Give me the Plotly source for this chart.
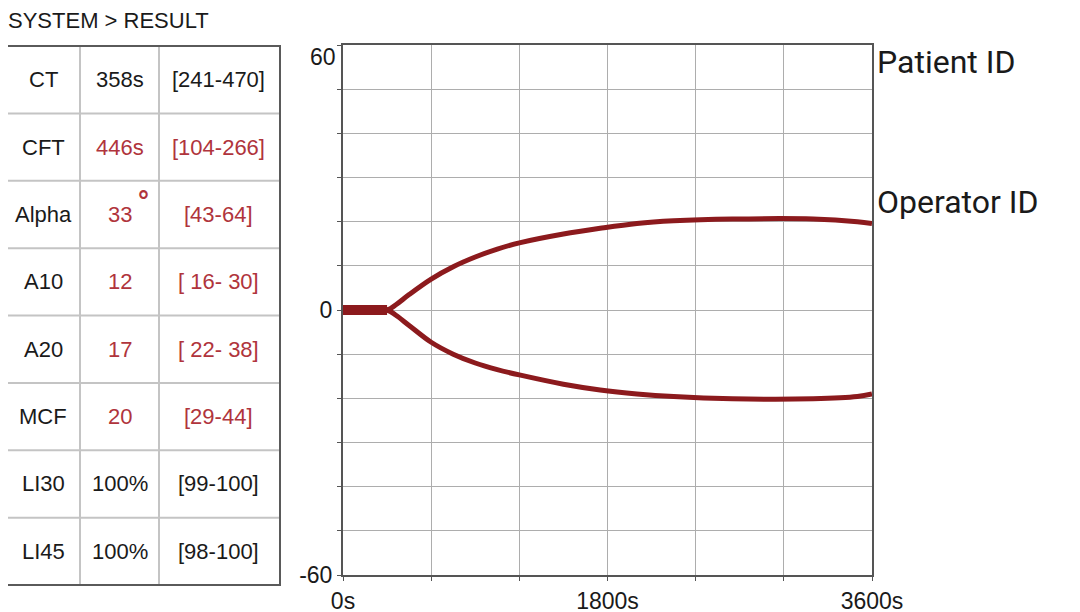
import plotly.graph_objects as go

W, H = 1080, 612
OFF = 8  # page body margin

# ---- data ----
time_s = [0, 300, 360, 450, 600, 750, 900, 1050, 1200, 1500, 1750, 2000, 2250, 2650, 3200, 3500, 3600]
upper = [0, 0, 1.2, 3.5, 7.0, 9.8, 12.0, 13.8, 15.2, 17.2, 18.5, 19.6, 20.2, 20.6, 20.6, 20.0, 19.6]
lower = [0, 0, -1.2, -3.5, -7.3, -10.0, -12.0, -13.5, -14.7, -16.8, -18.1, -19.0, -19.6, -20.1, -20.1, -19.6, -19.0]
flat_t = [0, 300]
flat_v = [0, 0]

params = ["CT", "CFT", "Alpha", "A10", "A20", "MCF", "LI30", "LI45"]
values = ["358s", "446s", "33", "12", "17", "20", "100%", "100%"]
ranges = ["[241-470]", "[104-266]", "[43-64]", "[ 16- 30]", "[ 22- 38]", "[29-44]", "[99-100]", "[98-100]"]
abnormal = [False, True, True, True, True, True, False, False]

x_tickvals = [0, 600, 1200, 1800, 2400, 3000, 3600]
x_ticktext = ["0s", "", "", "1800s", "", "", "3600s"]
y_tickvals = [-60, -50, -40, -30, -20, -10, 0, 10, 20, 30, 40, 50, 60]
y_ticktext = ["-60", "", "", "", "", "", "0", "", "", "", "", "", ""]

CURVE = "#8c1a1d"
RED = "#b0343c"
BLACK = "#1a1a1a"

def px(x):
    return (x - OFF) / W

def py(y):
    return 1 - (y - OFF) / H

fig = go.Figure()
fig.add_trace(go.Scatter(x=time_s, y=upper, mode="lines", line=dict(color=CURVE, width=5, shape="spline"),
                         showlegend=False, hoverinfo="skip"))
fig.add_trace(go.Scatter(x=time_s, y=lower, mode="lines", line=dict(color=CURVE, width=5, shape="spline"),
                         showlegend=False, hoverinfo="skip"))
fig.add_trace(go.Scatter(x=flat_t, y=flat_v, mode="lines", line=dict(color=CURVE, width=10),
                         showlegend=False, hoverinfo="skip"))

x0p, x1p = 343, 872
y0p, y1p = 45, 575

fig.update_layout(
    width=W, height=H,
    margin=dict(l=0, r=0, t=0, b=0, pad=0),
    paper_bgcolor="white", plot_bgcolor="white",
    font=dict(family="Liberation Sans", size=22, color=BLACK),
    xaxis=dict(domain=[px(x0p), px(x1p)], range=[0, 3600], tickvals=x_tickvals, ticktext=x_ticktext,
               automargin=False,
               showgrid=True, gridcolor="#adadad", gridwidth=1, zeroline=False,
               showline=True, linecolor="#555555", linewidth=2, mirror=True,
               ticks="outside", ticklen=4, tickcolor="#555555", tickfont=dict(size=23, color=BLACK)),
    yaxis=dict(domain=[py(y1p), py(y0p)], range=[-60, 60], tickvals=y_tickvals, ticktext=y_ticktext,
               automargin=False,
               showgrid=True, gridcolor="#adadad", gridwidth=1, zeroline=False,
               showline=True, linecolor="#555555", linewidth=2, mirror=True,
               ticks="outside", ticklen=4, tickcolor="#555555", tickfont=dict(size=23, color=BLACK)),
)

annotations = []
shapes = []

# y label "60" (shifted down like the reference)
annotations.append(dict(x=0, y=60, xref="x", yref="y", text="60", showarrow=False, xanchor="right",
                        yanchor="middle", xshift=-5, yshift=-12, font=dict(size=23, color=BLACK)))

# title
annotations.append(dict(x=px(7), y=py(20), xref="paper", yref="paper", text="SYSTEM &gt; RESULT",
                        showarrow=False, xanchor="left", yanchor="middle", borderpad=0,
                        font=dict(size=22, color=BLACK, family="Liberation Sans")))

# right-side labels
annotations.append(dict(x=px(875), y=py(62), xref="paper", yref="paper", text="Patient ID",
                        showarrow=False, xanchor="left", yanchor="middle",
                        font=dict(size=32, color=BLACK, family="Roboto")))
annotations.append(dict(x=px(875), y=py(202), xref="paper", yref="paper", text="Operator ID",
                        showarrow=False, xanchor="left", yanchor="middle",
                        font=dict(size=32, color=BLACK, family="Roboto")))

# table geometry
tx = [5, 80, 159, 280]
ty0, ty1 = 46, 585
n = len(params)
rh = (ty1 - ty0) / n

for i in range(1, n):
    yy = ty0 + rh * i
    shapes.append(dict(type="line", xref="paper", yref="paper", x0=px(tx[0]), x1=px(tx[-1]),
                       y0=py(yy), y1=py(yy), line=dict(color="#c4c4c4", width=2)))
for xx in tx[1:-1]:
    shapes.append(dict(type="line", xref="paper", yref="paper", x0=px(xx), x1=px(xx),
                       y0=py(ty0), y1=py(ty1), line=dict(color="#c4c4c4", width=2)))
shapes.append(dict(type="rect", xref="paper", yref="paper", x0=px(tx[0]), x1=px(tx[-1]),
                   y0=py(ty1), y1=py(ty0), line=dict(color="#5a5a5a", width=2)))

centers = [43, 119.5, 218]
for i in range(n):
    cy = ty0 + rh * (i + 0.5)
    col = RED if abnormal[i] else BLACK
    for j, (txt, c) in enumerate([(params[i], BLACK), (values[i], col), (ranges[i], col)]):
        annotations.append(dict(x=px(centers[j]), y=py(cy), xref="paper", yref="paper", text=txt,
                                showarrow=False, xanchor="center", yanchor="middle",
                                font=dict(size=22, color=c, family="Liberation Sans")))
    if params[i] == "Alpha":
        annotations.append(dict(x=px(143), y=py(cy - 13), xref="paper", yref="paper", text="<b>°</b>",
                                showarrow=False, xanchor="center", yanchor="middle",
                                font=dict(size=26, color=RED, family="DejaVu Sans")))

fig.update_layout(annotations=annotations, shapes=shapes)
fig.write_html("out.html")
